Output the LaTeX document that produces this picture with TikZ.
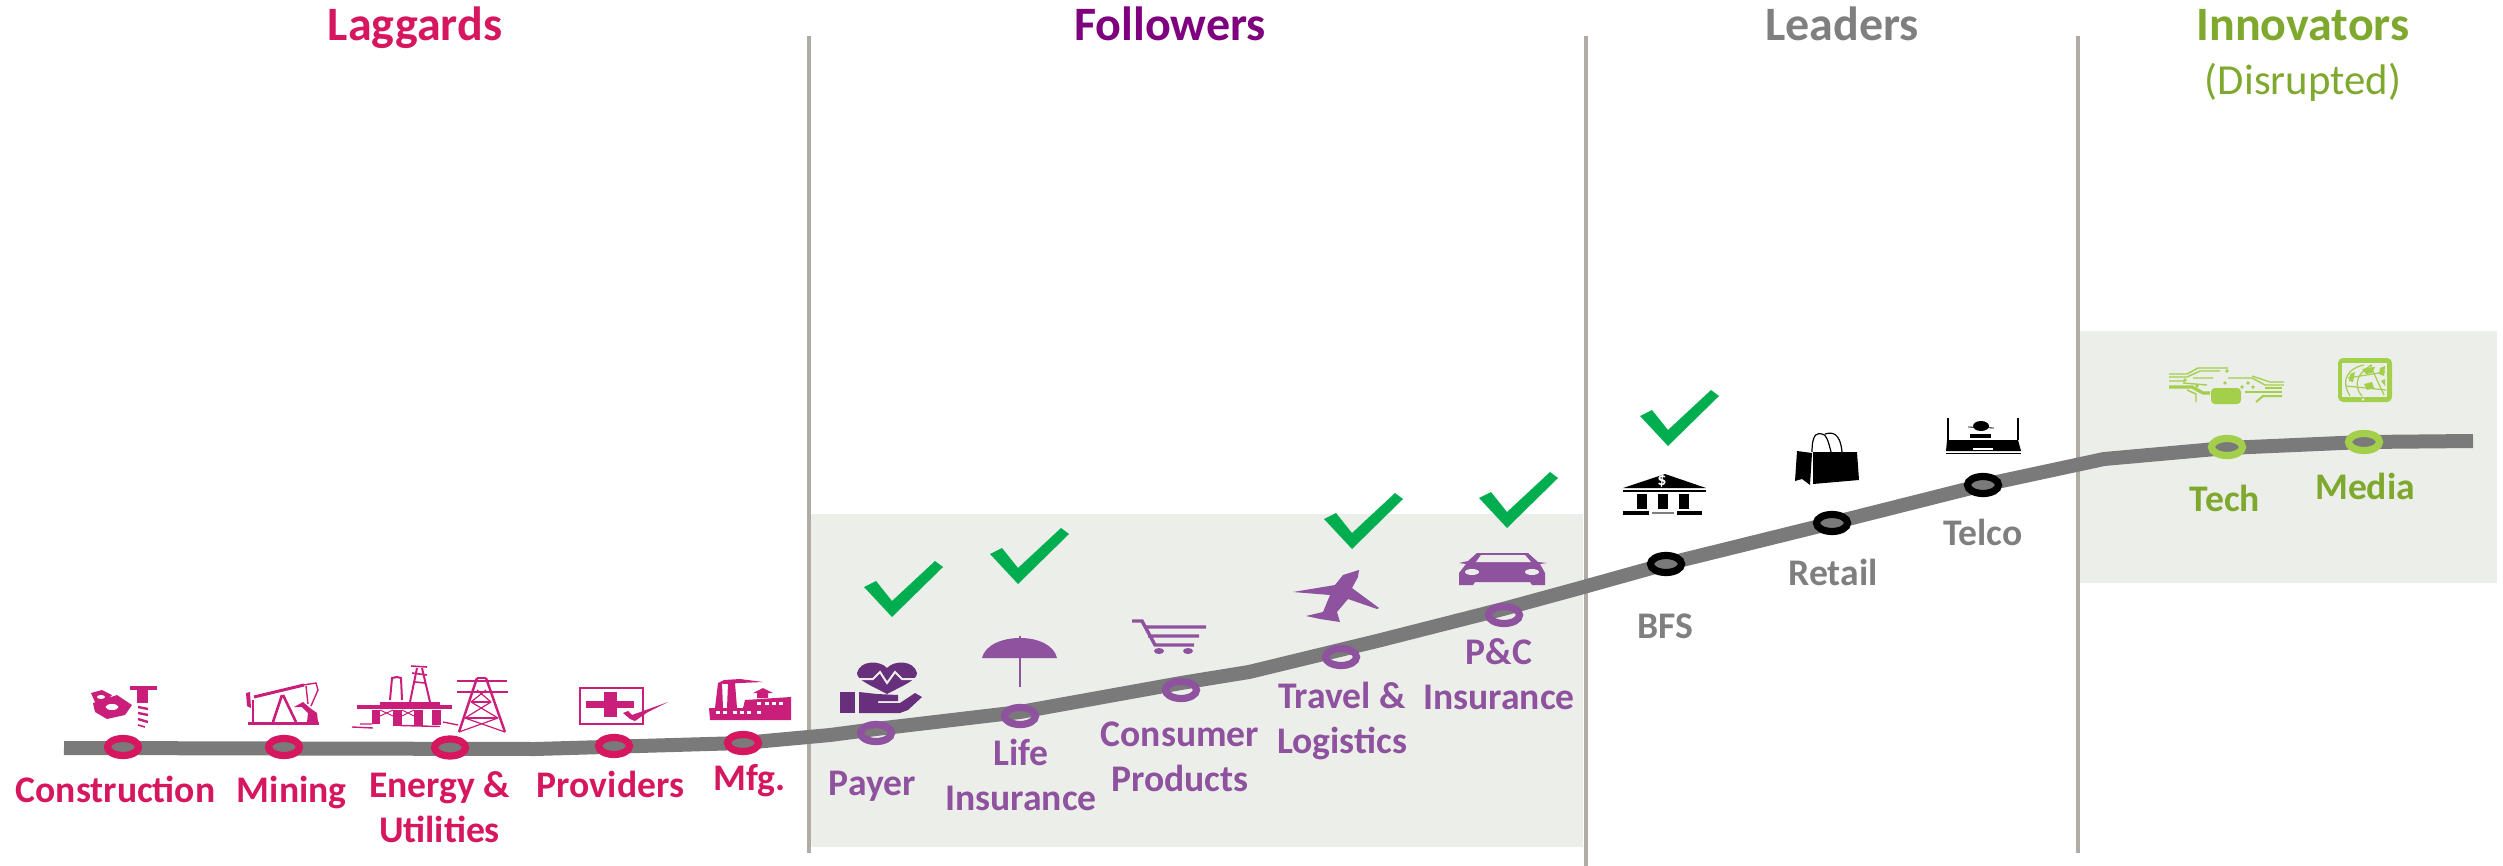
\documentclass[tikz,border=0pt]{standalone}
\usepackage{fontspec}
\setmainfont{Carlito}
\usetikzlibrary{positioning,shapes.geometric}
\definecolor{lagred}{HTML}{D6175F}
\definecolor{lagicon}{HTML}{C91E7A}
\definecolor{folpurple}{HTML}{7F007F}
\definecolor{follabel}{HTML}{8E529E}
\definecolor{folheart}{HTML}{68307C}
\definecolor{leadgray}{HTML}{7F7F7F}
\definecolor{innogreen}{HTML}{7FA82E}
\definecolor{innolight}{HTML}{A3CF4B}
\definecolor{tickgreen}{HTML}{00AE50}
\definecolor{boxgray}{HTML}{ECEEEA}
\definecolor{sepgray}{HTML}{B0ACA5}
\definecolor{curvegray}{HTML}{7A7A7A}

\begin{document}
\begin{tikzpicture}[
				x=0.5pt, y=-0.5pt,
				trendline/.style={draw=curvegray, line width=7pt, line join=round},
				sepline/.style={draw=sepgray, line width=2pt},
				ringnode/.style={ellipse, inner sep=0pt, line width=3.6pt, minimum width=15.5pt, minimum height=8.5pt},
				labelnode/.style={font=\fontsize{18.8}{22.5}\selectfont\bfseries, align=center, inner sep=0pt, outer sep=0pt},
				headnode/.style={font=\fontsize{24}{28}\selectfont\bfseries, anchor=base, inner sep=0pt, outer sep=0pt},
				tickmark/.pic={\fill[tickgreen] (-28,-30) -- (-16,-36) -- (0,-16) -- (43,-56) -- (51,-50) -- (0,0) -- cycle;},
			]
			\useasboundingbox (0,0) rectangle (2503,866);
			\fill[boxgray] (810,514) rectangle (1583,847);
			\fill[boxgray] (2080,331) rectangle (2497,583);
			\draw[sepline] (809,36) -- (809,853);
			\draw[sepline] (1586,36) -- (1586,866);
			\draw[sepline] (2078,36) -- (2078,853);

			\coordinate (curvestart) at (64,748);
			\coordinate (curveend) at (2473,441);
			\draw[trendline] (curvestart) -- (535,749) -- (743,743) -- (830,735) -- (876,729) -- (1020,712) -- (1181,683) -- (1249,672)
				-- (1377,641) -- (1503,609) -- (1580,588) -- (1666,564) -- (1832,523) -- (1983,485) -- (2104,459) -- (2227,448) -- (2364,442) -- (curveend);

			\node[headnode, lagred] (laggards) at (415,41) {Laggards};
			\node[headnode, folpurple] (followers) at (1170,41) {Followers};
			\node[headnode, leadgray] (leaders) at (1842,41) {Leaders};
			\node[headnode, innogreen] (innovators) at (2303,41) {Innovators};
			\node[innogreen, font=\fontsize{21.4}{25}\selectfont, inner sep=0pt, outer sep=0pt] (disrupted) [below=26.5pt of innovators, anchor=base] {(Disrupted)};

			\begin{scope}[every node/.append style={draw=lagred}]
			\node[ringnode] (construction) at (123,747) {};
			\node[ringnode] (mining) at (284,747) {};
			\node[ringnode] (energy) at (450,747.5) {};
			\node[ringnode] (providers) at (614,746) {};
			\node[ringnode] (mfg) at (743,743) {};
			\end{scope}
			\begin{scope}[every node/.append style={draw=follabel}]
			\node[ringnode] (payer) at (876,733) {};
			\node[ringnode] (life) at (1020,716) {};
			\node[ringnode] (consumer) at (1181,690) {};
			\node[ringnode] (travel) at (1341,657) {};
			\node[ringnode] (pandc) at (1504,615) {};
			\end{scope}
			\begin{scope}[every node/.append style={draw=black}]
			\node[ringnode] (bfs) at (1666,564) {};
			\node[ringnode] (retail) at (1832,523) {};
			\node[ringnode] (telco) at (1983,485) {};
			\end{scope}
			\begin{scope}[every node/.append style={draw=innolight}]
			\node[ringnode] (tech) at (2227,447) {};
			\node[ringnode] (media) at (2364,442) {};
			\end{scope}

			\begin{scope}[every node/.append style={labelnode, lagred, anchor=base}]
			\node (constructionlabel) [below=21.9pt of construction, xshift=-3.75pt, anchor=base] {Construction};
			\node (mininglabel) [below=21.9pt of mining, xshift=3.85pt, anchor=base] {Mining};
			\node (energylabel) [below=41.6pt of energy, xshift=-5.25pt, anchor=base] {Energy \&\\Utilities};
			\node (providerslabel) [below=19.9pt of providers, xshift=-1.75pt, anchor=base] {Providers};
			\node (mfglabel) [below=17.8pt of mfg, xshift=3.3pt, anchor=base] {Mfg.};
			\end{scope}
			\begin{scope}[every node/.append style={labelnode, follabel, anchor=base}]
			\node (payerlabel) [below=25.4pt of payer, xshift=-1.8pt, anchor=base] {Payer};
			\node (lifelabel) [below=41.2pt of life, xshift=0.5pt, anchor=base] {Life\\Insurance};
			\node (consumerlabel) [below=44.9pt of consumer, xshift=-0.5pt, anchor=base] {Consumer\\Products};
			\node (travellabel) [below=42pt of travel, xshift=0.5pt, anchor=base] {Travel \&\\Logistics};
			\node (pandclabel) [below=41pt of pandc, xshift=-2.5pt, anchor=base] {P\&C\\Insurance};
			\end{scope}
			\begin{scope}[every node/.append style={labelnode, leadgray, anchor=base}]
			\node (bfslabel) [below=31.4pt of bfs, xshift=-0.5pt, anchor=base] {BFS};
			\node (retaillabel) [below=25.4pt of retail, xshift=0.5pt, anchor=base] {Retail};
			\node (telcolabel) [below=24.4pt of telco, anchor=base] {Telco};
			\end{scope}
			\begin{scope}[every node/.append style={labelnode, innogreen, anchor=base}]
			\node (techlabel) [below=26.4pt of tech, xshift=-1pt, anchor=base] {Tech};
			\node (medialabel) [below=22.9pt of media, xshift=0.5pt, anchor=base] {Media};
			\end{scope}

			\foreach \tx/\ty in {892/617, 1018/584, 1352/549, 1507/528, 1668/446}
				\pic at (\tx,\ty) {tickmark};

			\begin{scope}[lagicon]
			\fill (93,703) -- (117,695) -- (132,705) -- (125,715) -- (107,719) -- (95,712) -- cycle;
			\fill (91,693) -- (102,690) -- (112,695) -- (105,703) -- (95,702) -- cycle;
			\fill[white] (112,707) ellipse [x radius=6.5, y radius=3];
			\fill[white] (101,697) ellipse [x radius=4, y radius=2];
			\fill (130,686) rectangle (157,690);
			\fill (137,690) rectangle (148,703);
			\draw[line width=1.2pt] (138,707) -- (148,709) (138,713) -- (148,715) (138,719) -- (148,722);
			\draw[line width=0.8pt] (138,725) -- (145,727);

			\fill (248,722) rectangle (319,724.5);
			\draw[line width=1.5pt] (254,697) -- (304,685);
			\fill (246,693) -- (250,692) -- (251,708) -- (247,706) -- cycle;
			\draw[line width=1pt] (253,700) -- (253,722);
			\draw[line width=1.3pt] (282,695) -- (273,722) (283,695) -- (296,722);
			\draw[line width=0.7pt] (303,685) -- (316,683) -- (318,690) -- (311,706) (306,686) -- (308,704);
			\fill (294,707) -- (303,702) -- (310,708) -- (317,713) -- (318,722) -- (307,722) -- (308,713) -- (302,707) -- cycle;

			\fill (357,705) rectangle (452,708.5);
			\fill (380,702) rectangle (440,705);
			\fill (372,710) rectangle (380,724);
			\fill (393,710) rectangle (402,726);
			\fill (414,710) rectangle (423,726);
			\fill (432,710) rectangle (441,725);
			\draw[line width=0.5pt] (380,710) -- (393,716) (393,710) -- (380,716) (402,710) -- (414,716) (414,710) -- (402,716);
			\draw[line width=1pt] (410,702) -- (417,668) (430,702) -- (422,668);
			\draw[line width=0.8pt] (411,666) -- (427,667) (412,673) -- (427,675) (415,682) -- (425,683);
			\draw[line width=1pt] (390,700) -- (392,678) -- (397,677) -- (401,678) -- (402,700);
			\draw[line width=0.7pt] (352,727) -- (373,728) (360,724) -- (372,724) (400,725.5) -- (440,726.5) (443,722) -- (458,725);

			\draw[line width=1.2pt] (477,678) -- (459,732) (486,678) -- (505,732);
			\draw[line width=1pt] (457,681) -- (507,681);
			\draw[line width=0.7pt] (457,692) -- (508,692) (471,702) -- (491,702) (465,718) -- (498,718) (477,678) -- (486,678);
			\draw[line width=0.6pt] (477,690) -- (491,702) (486,690) -- (471,702) (471,702) -- (498,718) (491,702) -- (465,718) (465,718) -- (505,732) (498,718) -- (459,732);

			\draw[line width=1pt] (579.5,688) rectangle (643,724);
			\fill (586,701) rectangle (634,708);
			\fill (604,692) rectangle (617,717);
			\fill (623,713) -- (628,711) -- (632,715) -- (668,702) -- (648,712) -- (635,721) -- (630,719) -- cycle;

			\fill (710,720) -- (791,720) -- (791,697) -- (745,700) -- (743,708) -- (737,708) -- (735,683) -- (728,683) -- (727,708) -- (723,708) -- (722,683) -- (718,683) -- (715,708) -- (709,708) -- cycle;
			\fill (753,693) -- (763,688) -- (773,693) -- (768,693) -- (768,698) -- (757,698) -- (757,693) -- cycle;
			\fill (718,683) -- (724,680) -- (740,679) -- (763,682) -- (740,683) -- (725,684) -- cycle;
			\foreach \wx in {716,723,733,740,747,757}
				\fill[white] (\wx,711) rectangle +(4,2.5);
			\foreach \wx in {757,765,772,779}
				\fill[white] (\wx,702) rectangle +(4,2.5);
			\end{scope}

			\begin{scope}[folheart]
			\fill (887,668) .. controls (880,660) and (860,660) .. (857,673) .. controls (857,680) and (870,685) .. (887,694) .. controls (904,685) and (917,680) .. (917,673) .. controls (914,660) and (894,660) .. (887,668);
			\draw[boxgray, line width=1pt] (855,679) -- (873,679) -- (880,672) -- (887,683) -- (895,672) -- (902,679) -- (919,679);
			\fill (840,692) rectangle (855,713);
			\fill (859,692) -- (877,694) -- (898,695) -- (898,701) -- (878,701) -- (878,703) -- (900,703) -- (915,693) -- (922,697) -- (908,710) -- (900,713) -- (859,713) -- cycle;
			\end{scope}

			\begin{scope}[follabel]
			\fill (982,658) .. controls (985,645) and (1002,638) .. (1020,638) .. controls (1038,638) and (1054,645) .. (1057,658) -- cycle;
			\draw[line width=1pt] (1020,636) -- (1020,687);
			\draw[line width=1.7pt] (1132,621) -- (1142,621) -- (1155,645) -- (1194,645) (1145,627) -- (1206,627) (1148,636) -- (1199,636);
			\fill (1159,651) ellipse [x radius=5, y radius=3];
			\fill (1188,651) ellipse [x radius=5, y radius=3];
			\fill (1359,570) -- (1358,577) -- (1352,588) -- (1379,608) -- (1377,609) -- (1348,599) -- (1337,612) -- (1340,622) -- (1320,619) -- (1306,616) -- (1323,612) -- (1330,595) -- (1293,592) -- (1335,585) -- (1343,575) -- cycle;
			\fill (1477,553) -- (1528,553) -- (1538,562) -- (1547,563) -- (1540,564) -- (1545,573) -- (1545,585) -- (1532,585) -- (1530,582) -- (1475,582) -- (1473,585) -- (1459,585) -- (1459,573) -- (1466,564) -- (1459,563) -- (1468,561) -- cycle;
			\fill[boxgray] (1476,562) -- (1531,562) -- (1525,555) -- (1481,555) -- cycle;
			\fill[boxgray] (1472,572) ellipse [x radius=7, y radius=3];
			\fill[boxgray] (1532,572) ellipse [x radius=7, y radius=3];
			\end{scope}

			\fill (1623,488) -- (1665,474) -- (1706,488) -- cycle;
			\draw[line width=0.8pt] (1623,491) -- (1706,491);
			\foreach \cx in {1637,1658,1679}
				\fill (\cx,494) rectangle +(9.5,15);
			\fill (1623,511) rectangle (1649,515);
			\fill (1677,511) rectangle (1702,515);
			\fill[leadgray] (1652,512) rectangle (1674,514);
			\node[white, inner sep=0pt, font=\fontsize{9}{9}\selectfont\bfseries] (banksign) at (1662,481) {\$};

			\fill (1813,452) -- (1857,452) -- (1859,480) -- (1813,484) -- cycle;
			\fill (1797,451) -- (1812,453) -- (1810,485) -- (1802,479) -- (1795,481) -- cycle;
			\draw[line width=0.6pt] (1812,452) .. controls (1812,432) and (1818,433) .. (1822,434) .. controls (1826,434) and (1828,440) .. (1831,452);
			\draw[line width=0.6pt] (1825,434) .. controls (1832,432) and (1840,432) .. (1842,452);

			\fill (1947,418) rectangle (1949,440);
			\fill (2017,418) rectangle (2019,440);
			\fill (1947,440) -- (2018,440) -- (2021,451) -- (1946,451) -- cycle;
			\fill[white] (1973,448) rectangle (1993,450);
			\draw[line width=0.5pt] (1946,453) -- (2021,453);
			\fill (1981,426) ellipse [x radius=8, y radius=5];
			\draw[line width=0.4pt] (1968,427) -- (1994,428);
			\fill (1970,434) rectangle (1991,438);

			\begin{scope}[innolight]
			\draw[line width=0.7pt] (2169,374) -- (2187,374) -- (2198,368) -- (2228,368);
			\draw[line width=0.7pt] (2169,377) -- (2187,377) -- (2200,371) -- (2220,371);
			\draw[line width=0.7pt] (2169,381) -- (2185,381) (2193,378) -- (2213,378) (2183,383) -- (2207,385);
			\draw[line width=1.6pt] (2169,387) -- (2192,387) -- (2203,393) -- (2210,393);
			\draw[line width=0.7pt] (2187,390) -- (2196,394) -- (2196,402);
			\draw[line width=0.7pt] (2228,378) -- (2252,378) -- (2265,385) -- (2284,385);
			\draw[line width=0.7pt] (2252,376) -- (2270,382) -- (2284,382);
			\draw[line width=1.2pt] (2265,388) -- (2282,388);
			\draw[line width=0.7pt] (2245,392) -- (2282,392);
			\draw[line width=1pt] (2282,396) -- (2263,396) -- (2256,402);
			\fill[rounded corners=2pt] (2211,388) rectangle (2241,404);
			\foreach \dx/\dy in {2225/383, 2248/383, 2253/387, 2242/387, 2227/371, 2185/380, 2197/386}
				\fill (\dx,\dy) circle [radius=1.8];

			\fill[rounded corners=2.5pt] (2338,358) rectangle (2392,402);
			\fill[boxgray] (2342,363) rectangle (2387,397);
			\fill[boxgray] (2363,399.5) circle [radius=1.3];
			\draw[line width=0.6pt] (2364,365) .. controls (2348,368) and (2340,380) .. (2350,396);
			\draw[line width=0.6pt] (2372,365) .. controls (2358,372) and (2352,385) .. (2362,396);
			\draw[line width=0.6pt] (2348,378) -- (2385,372) (2346,386) -- (2386,390) (2370,365) -- (2384,395);
			\fill (2362,369) -- (2375,367) -- (2372,373) -- (2366,374) -- cycle;
			\fill (2380,368) -- (2385,366) -- (2384,376) -- (2379,374) -- cycle;
			\fill (2364,384) -- (2372,382) -- (2374,388) -- (2367,390) -- cycle;
			\fill (2350,374) -- (2355,372) -- (2353,382) -- (2349,381) -- cycle;
			\fill (2381,381) -- (2385,379) -- (2385,386) -- cycle;
			\end{scope}
			\end{tikzpicture}
\end{document}
